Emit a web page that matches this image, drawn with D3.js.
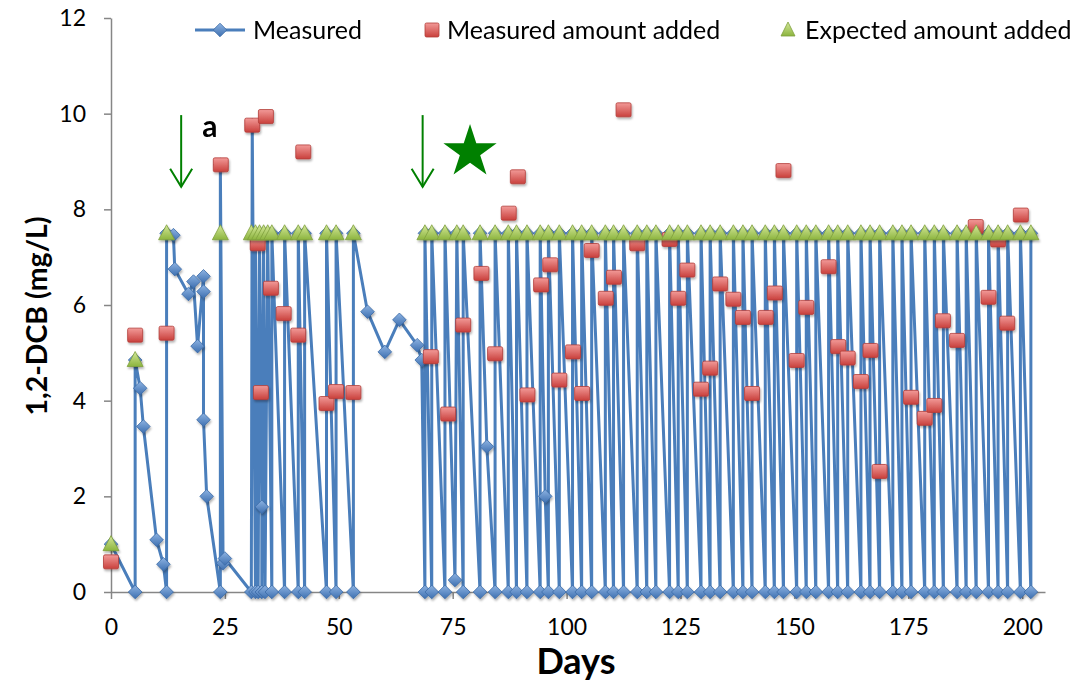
<!DOCTYPE html>
<html>
<head>
<meta charset="utf-8">
<script src="https://cdn.jsdelivr.net/npm/d3@7"></script>
<style>
  body { margin: 0; background: #fff; }
  svg { display: block; }
  text { font-family: Lato, "Open Sans", sans-serif; }
</style>
</head>
<body>
<svg id="chart" width="1077" height="685"></svg>
<script>
// ---- data -------------------------------------------------------------
// Measured 1,2-DCB concentration (mg/L) over time (days)
const measuredDays = [
  0, 5.3, 5.3, 6.4, 7.1, 10.0, 11.5, 12.2, 12.2, 13.7, 14.0, 17.0, 18.1, 19.0,
  20.3, 20.3, 20.3, 21.0, 24.0, 24.0, 24.6, 25.0, 30.8, 31.0, 31.7, 31.7, 32.3,
  32.6, 33.1, 33.1, 33.5, 33.8, 34.4, 35.3, 35.3, 38.1, 38.1, 41.1, 41.1, 42.5,
  42.5, 47.3, 47.3, 49.4, 49.4, 53.2, 53.2, 56.3, 60.1, 63.3, 67.2, 68.2, 68.9,
  68.9, 70.4, 70.4, 73.3, 73.3, 75.5, 75.9, 77.3, 77.3, 81.0, 81.0, 82.5, 84.3,
  84.3, 87.2, 87.2, 89.0, 89.0, 91.3, 91.3, 94.2, 94.2, 95.3, 96.0, 96.0, 98.4,
  98.4, 101.3, 101.3, 103.3, 103.3, 105.5, 105.5, 108.5, 108.5, 110.3, 110.3,
  112.5, 112.5, 115.5, 115.5, 117.6, 117.6, 119.6, 119.6, 122.6, 122.6, 124.5,
  124.5, 126.5, 126.5, 129.5, 129.5, 131.5, 131.5, 133.7, 133.7, 136.6, 136.6,
  138.7, 138.7, 140.7, 140.7, 143.6, 143.6, 145.6, 145.6, 147.6, 147.6, 150.5,
  150.5, 152.6, 152.6, 154.7, 154.7, 157.5, 157.5, 159.5, 159.5, 161.7, 161.7,
  164.6, 164.6, 166.6, 166.6, 168.7, 168.7, 171.6, 171.6, 173.6, 173.6, 175.6,
  175.6, 178.6, 178.6, 180.7, 180.7, 182.7, 182.7, 185.7, 185.7, 187.7, 187.7,
  189.9, 189.9, 192.6, 192.6, 194.7, 194.7, 196.8, 196.8, 199.6, 199.6, 201.9,
  201.9
];
const measuredValues = [
  1.0, 0, 4.85, 4.26, 3.46, 1.09, 0.58, 0, 7.5, 7.46, 6.75, 6.23, 6.49, 5.14,
  6.6, 6.28, 3.6, 2.0, 0, 8.93, 0.6, 0.7, 0, 9.76, 0, 7.5, 0,
  7.5, 1.78, 0, 7.5, 0, 7.5, 0, 7.5, 0, 7.5, 0, 7.5, 0,
  7.5, 0, 7.5, 0, 7.5, 0, 7.5, 5.86, 5.02, 5.69, 5.16, 4.85, 0,
  7.5, 0, 7.5, 0, 7.5, 0.25, 7.5, 0, 7.5, 0, 7.5, 3.04, 0,
  7.5, 0, 7.5, 0, 7.5, 0, 7.5, 0, 7.5, 2.0, 0, 7.5, 0,
  7.5, 0, 7.5, 0, 7.5, 0, 7.5, 0, 7.5, 0, 7.5,
  0, 7.5, 0, 7.5, 0, 7.5, 0, 7.5, 0, 7.5, 0,
  7.5, 0, 7.5, 0, 7.5, 0, 7.5, 0, 7.5, 0, 7.5,
  0, 7.5, 0, 7.5, 0, 7.5, 0, 7.5, 0, 7.5, 0,
  7.5, 0, 7.5, 0, 7.5, 0, 7.5, 0, 7.5, 0, 7.5,
  0, 7.5, 0, 7.5, 0, 7.5, 0, 7.5, 0, 7.5, 0,
  7.5, 0, 7.5, 0, 7.5, 0, 7.5, 0, 7.5, 0, 7.5,
  0, 7.5, 0, 7.5, 0, 7.5, 0, 7.5, 0, 7.5, 0,
  7.5
];

// Amount of 1,2-DCB measured right after each addition
const addedDays = [
  0, 5.3, 12.2, 24.1, 31.0, 32.2, 32.9, 34.0, 35.1, 37.9, 41.1, 42.2, 47.3, 49.4,
  53.2, 70.2, 74.0, 77.3, 81.3, 84.3, 87.3, 89.3, 91.4, 94.4, 96.4, 98.4, 101.4,
  103.4, 105.5, 108.6, 110.4, 112.5, 115.5, 122.6, 124.5, 126.5, 129.5, 131.5,
  133.7, 136.6, 138.7, 140.7, 143.7, 145.7, 147.6, 150.5, 152.6, 157.5, 159.6,
  161.7, 164.6, 166.7, 168.7, 175.6, 178.6, 180.7, 182.6, 185.7, 189.8, 192.6,
  194.7, 196.7, 199.7
];
const addedValues = [
  0.63, 5.37, 5.41, 8.93, 9.76, 7.28, 4.17, 9.94, 6.35, 5.82, 5.37, 9.2, 3.94, 4.19,
  4.17, 4.92, 3.72, 5.58, 6.66, 4.98, 7.92, 8.68, 4.12, 6.42, 6.84, 4.43, 5.02,
  4.15, 7.14, 6.14, 6.58, 10.08, 7.28, 7.37, 6.14, 6.73, 4.24, 4.68,
  6.44, 6.12, 5.74, 4.15, 5.74, 6.25, 8.81, 4.84, 5.95, 6.8, 5.13,
  4.89, 4.4, 5.05, 2.52, 4.07, 3.63, 3.9, 5.67, 5.26, 7.64, 6.16,
  7.36, 5.62, 7.88
];

// Nominal amount expected from each addition
const expectedDays = [
  0, 5.3, 12.2, 24.0, 30.8, 31.7, 32.6, 33.5, 34.4, 35.3, 38.1, 41.1, 42.5, 47.3,
  49.4, 53.2, 68.9, 70.4, 73.3, 75.9, 77.3, 81.0, 84.3, 87.2, 89.0, 91.3, 94.2,
  96.0, 98.4, 101.3, 103.3, 105.5, 108.5, 110.3, 112.5, 115.5, 117.6, 119.6,
  122.6, 124.5, 126.5, 129.5, 131.5, 133.7, 136.6, 138.7, 140.7, 143.6, 145.6,
  147.6, 150.5, 152.6, 154.7, 157.5, 159.5, 161.7, 164.6, 166.6, 168.7, 171.6,
  173.6, 175.6, 178.6, 180.7, 182.7, 185.7, 187.7, 189.9, 192.6, 194.7, 196.8,
  199.6, 201.9
];
const expectedValues = [
  1.0, 4.85, 7.5, 7.5, 7.5, 7.5, 7.5, 7.5, 7.5, 7.5, 7.5, 7.5, 7.5, 7.5,
  7.5, 7.5, 7.5, 7.5, 7.5, 7.5, 7.5, 7.5, 7.5, 7.5, 7.5, 7.5, 7.5,
  7.5, 7.5, 7.5, 7.5, 7.5, 7.5, 7.5, 7.5, 7.5, 7.5, 7.5,
  7.5, 7.5, 7.5, 7.5, 7.5, 7.5, 7.5, 7.5, 7.5, 7.5, 7.5,
  7.5, 7.5, 7.5, 7.5, 7.5, 7.5, 7.5, 7.5, 7.5, 7.5, 7.5,
  7.5, 7.5, 7.5, 7.5, 7.5, 7.5, 7.5, 7.5, 7.5, 7.5, 7.5,
  7.5, 7.5
];

const xTicks = [0, 25, 50, 75, 100, 125, 150, 175, 200];
const yTicks = [0, 2, 4, 6, 8, 10, 12];
const legendLabels = ["Measured", "Measured amount added", "Expected amount added"];

// annotations: arrows (day, top value, bottom value), star (day, value), letter
const arrowDays = [15.4, 68.4];
const arrowTop = 9.97, arrowBottom = 8.47;
const starPos = [78.8, 9.2];
const letterPos = [21.7, 9.51];

// ---- layout -------------------------------------------------------------
const svg = d3.select("#chart");
const x = d3.scaleLinear().domain([0, 205]).range([111, 1045]);
const y = d3.scaleLinear().domain([0, 12]).range([592, 18]);
const axisColor = "#868686";

const defs = svg.append("defs");
function vGrad(id, top, bottom) {
  const g = defs.append("linearGradient").attr("id", id)
    .attr("x1", 0).attr("y1", 0).attr("x2", 0).attr("y2", 1);
  g.append("stop").attr("offset", "0%").attr("stop-color", top);
  g.append("stop").attr("offset", "100%").attr("stop-color", bottom);
}
vGrad("gBlue", "#8db3e2", "#3d6fb0");
vGrad("gRed", "#f29a98", "#c9403c");
vGrad("gGreen", "#d4e89a", "#8cb43e");
const shadow = defs.append("filter").attr("id", "shadow")
  .attr("x", "-50%").attr("y", "-50%").attr("width", "200%").attr("height", "200%");
shadow.append("feDropShadow").attr("dx", 1).attr("dy", 2)
  .attr("stdDeviation", 1.2).attr("flood-color", "#000").attr("flood-opacity", 0.3);

// axes
const yAxis = svg.append("g").attr("transform", `translate(${x(0)},0)`)
  .call(d3.axisLeft(y).tickValues(yTicks).tickSize(7).tickSizeOuter(0).tickPadding(18));
const xAxis = svg.append("g").attr("transform", `translate(0,${y(0)})`)
  .call(d3.axisBottom(x).tickValues(xTicks).tickSize(7).tickSizeOuter(0).tickPadding(20));
[xAxis, yAxis].forEach(a => {
  a.selectAll("path, line").attr("stroke", axisColor).attr("stroke-width", 1.5);
  a.selectAll("text").attr("font-size", 23).attr("fill", "#000")
    .attr("font-family", "Lato, sans-serif");
});

// axis titles
svg.append("text").attr("x", 576).attr("y", 674).attr("text-anchor", "middle")
  .attr("font-size", 36).attr("font-weight", "bold").text("Days");
svg.append("text").attr("transform", "translate(47,316) rotate(-90)")
  .attr("text-anchor", "middle").attr("font-size", 28.5).attr("font-weight", "bold")
  .text("1,2-DCB (mg/L)");

// marker shapes
function diamondPath(s) {
  return `M0,${-s}L${s},0L0,${s}L${-s},0Z`;
}
function trianglePath(w, h) {
  return `M0,${-h / 2 - 1}L${w / 2},${h / 2 - 1}L${-w / 2},${h / 2 - 1}Z`;
}

// measured line
const measured = measuredDays.map((d, i) => [d, measuredValues[i]]);
svg.append("path").datum(measured)
  .attr("fill", "none").attr("stroke", "#4a7ebb").attr("stroke-width", 3)
  .attr("stroke-linejoin", "round")
  .attr("d", d3.line().x(d => x(d[0])).y(d => y(d[1])));

svg.append("g").attr("filter", "url(#shadow)")
  .selectAll("path").data(measured).join("path")
  .attr("transform", d => `translate(${x(d[0])},${y(d[1])})`)
  .attr("d", diamondPath(6.8))
  .attr("fill", "url(#gBlue)").attr("stroke", "#3a6aa6").attr("stroke-width", 0.8);

// measured amount added
const added = addedDays.map((d, i) => [d, addedValues[i]]);
svg.append("g").attr("filter", "url(#shadow)")
  .selectAll("rect").data(added).join("rect")
  .attr("x", d => x(d[0]) - 7.5).attr("y", d => y(d[1]) - 7)
  .attr("width", 15).attr("height", 14).attr("rx", 1.5)
  .attr("fill", "url(#gRed)").attr("stroke", "#b33c38").attr("stroke-width", 0.8);

// expected amount added
const expected = expectedDays.map((d, i) => [d, expectedValues[i]]);
svg.append("g").attr("filter", "url(#shadow)")
  .selectAll("path").data(expected).join("path")
  .attr("transform", d => `translate(${x(d[0])},${y(d[1])})`)
  .attr("d", trianglePath(16, 15))
  .attr("fill", "url(#gGreen)").attr("stroke", "#7f9f3c").attr("stroke-width", 0.8);

// annotations
const green = "#008000";
arrowDays.forEach(d => {
  const ax = x(d), top = y(arrowTop), bot = y(arrowBottom);
  svg.append("line").attr("x1", ax).attr("x2", ax).attr("y1", top).attr("y2", bot)
    .attr("stroke", green).attr("stroke-width", 2);
  svg.append("path").attr("d", `M${ax - 11},${bot - 18}L${ax},${bot}L${ax + 11},${bot - 18}`)
    .attr("fill", "none").attr("stroke", green).attr("stroke-width", 2);
});
const starR = 28, starr = 28 * 0.382;
const starPts = d3.range(10).map(i => {
  const a = -Math.PI / 2 + i * Math.PI / 5;
  const r = i % 2 === 0 ? starR : starr;
  return [x(starPos[0]) + r * Math.cos(a), y(starPos[1]) + r * Math.sin(a)];
});
svg.append("path").attr("d", "M" + starPts.join("L") + "Z").attr("fill", green);
svg.append("text").attr("x", x(letterPos[0])).attr("y", y(letterPos[1]))
  .attr("text-anchor", "middle").attr("font-size", 30).attr("font-weight", "bold")
  .text("a");

// legend
const lg = svg.append("g");
lg.append("line").attr("x1", 195).attr("x2", 245).attr("y1", 30).attr("y2", 30)
  .attr("stroke", "#4a7ebb").attr("stroke-width", 3);
lg.append("path").attr("transform", "translate(220,30)").attr("d", diamondPath(6.8))
  .attr("fill", "url(#gBlue)").attr("stroke", "#3a6aa6").attr("stroke-width", 0.8);
lg.append("rect").attr("x", 425).attr("y", 23).attr("width", 14).attr("height", 14)
  .attr("rx", 1.5).attr("fill", "url(#gRed)").attr("stroke", "#b33c38").attr("stroke-width", 0.8);
lg.append("path").attr("transform", "translate(788,30)").attr("d", trianglePath(14, 14))
  .attr("fill", "url(#gGreen)").attr("stroke", "#7f9f3c").attr("stroke-width", 0.8);
const legendX = [253, 447, 805];
legendLabels.forEach((t, i) => {
  lg.append("text").attr("x", legendX[i]).attr("y", 39).attr("font-size", 25).text(t);
});
</script>
</body>
</html>
